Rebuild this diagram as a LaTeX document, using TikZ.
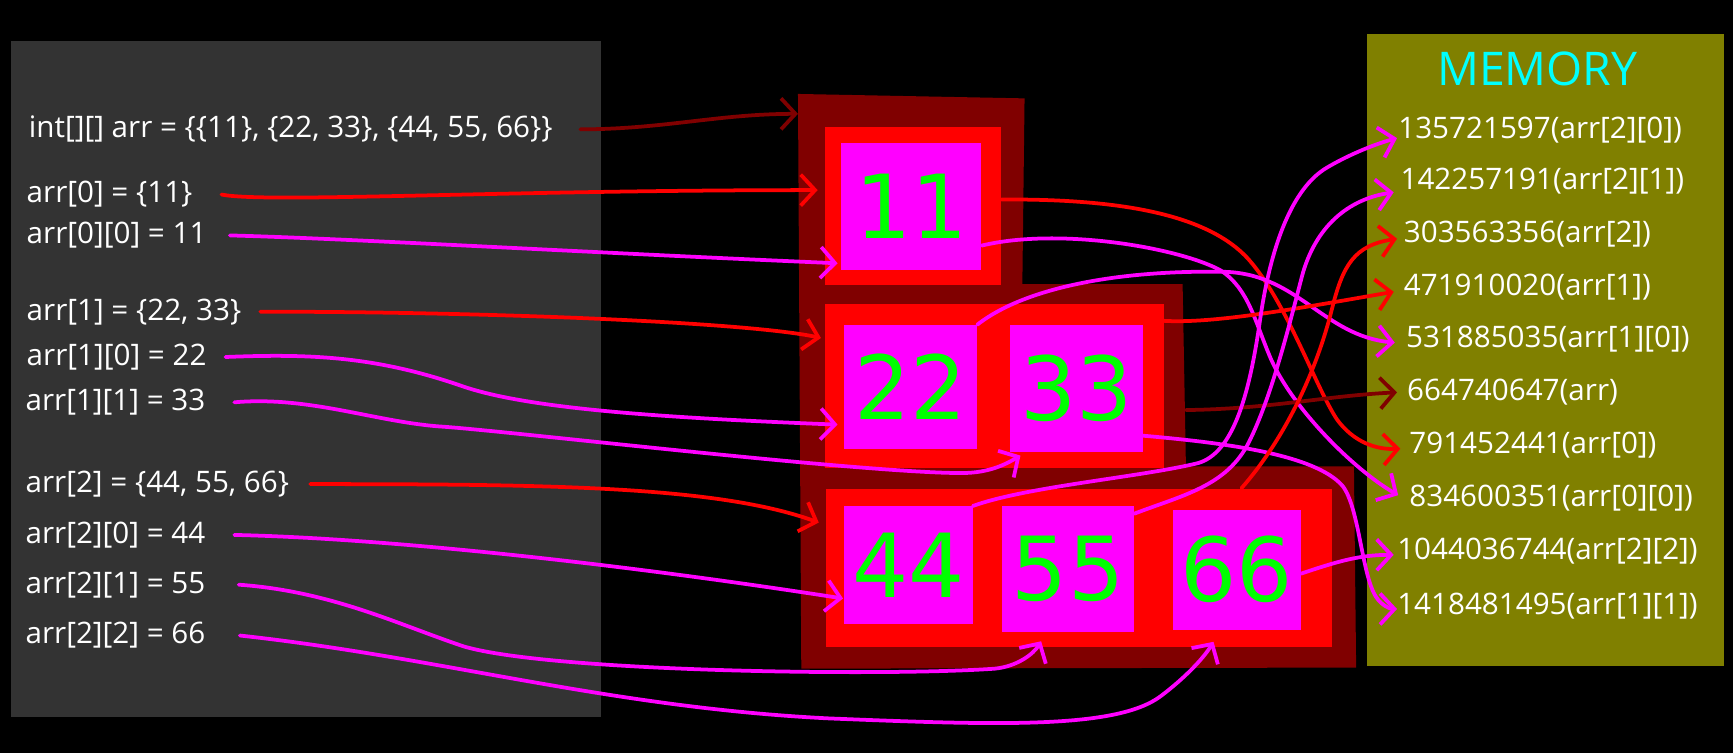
\documentclass[tikz,border=0pt]{standalone}
\usepackage{fontspec}
\setmainfont{Open Sans}
\newfontfamily\digitfont{DejaVu Sans}
\usetikzlibrary{arrows.meta,calc}
\definecolor{panelgray}{HTML}{333333}
\definecolor{memolive}{HTML}{808000}
\definecolor{dred}{HTML}{800000}
\definecolor{rred}{HTML}{FF0000}
\definecolor{mag}{HTML}{FF00FF}
\definecolor{dgreen}{HTML}{00FF00}
\definecolor{cyanc}{HTML}{00FFFF}
\begin{document}
\begin{tikzpicture}[x=1pt,y=-1pt,
  txt/.style={text=white,font=\fontsize{26.8}{32}\selectfont,inner sep=0pt,anchor=west},
  redbox/.style={fill=rred,inner sep=0pt},
  magbox/.style={fill=mag,inner sep=0pt,text=dgreen,font=\digitfont\fontsize{80}{92}\selectfont},
  conn/.style={line width=3.4pt,line cap=round,line join=round,-{Straight Barb[length=13pt,width=28pt]}}]
\useasboundingbox[fill=black] (0,0) rectangle (1568,681);
% panels
\node[fill=panelgray,inner sep=0pt,minimum width=534pt,minimum height=612pt] (code) at (277,343) {};
\node[fill=memolive,inner sep=0pt,minimum width=323pt,minimum height=572pt] (mem) at (1398.5,317) {};
\node[text=cyanc,font=\fontsize{42}{48}\selectfont,inner sep=0pt] (memtitle) at (1391,62) {MEMORY};
% code lines
\node[txt] (t0) at (26,117) {int[][] arr = \{\{11\}, \{22, 33\}, \{44, 55, 66\}\}};
\node[txt] (a0) at (24,176) {arr[0] = \{11\}};
\node[txt] (a00) at (24,213) {arr[0][0] = 11};
\node[txt] (a1) at (24,282) {arr[1] = \{22, 33\}};
\node[txt] (a10) at (24,323) {arr[1][0] = 22};
\node[txt] (a11) at (23,364) {arr[1][1] = 33};
\node[txt] (a2) at (23,438) {arr[2] = \{44, 55, 66\}};
\node[txt] (a20) at (23,484) {arr[2][0] = 44};
\node[txt] (a21) at (23,529) {arr[2][1] = 55};
\node[txt] (a22) at (23,575) {arr[2][2] = 66};
% memory lines
\node[txt] (m1) at (1265,118) {135721597(arr[2][0])};
\node[txt] (m2) at (1267,164) {142257191(arr[2][1])};
\node[txt] (m3) at (1270,212) {303563356(arr[2])};
\node[txt] (m4) at (1270,260) {471910020(arr[1])};
\node[txt] (m5) at (1272,307) {531885035(arr[1][0])};
\node[txt] (m6) at (1273,355) {664740647(arr)};
\node[txt] (m7) at (1275,403) {791452441(arr[0])};
\node[txt] (m8) at (1275,451) {834600351(arr[0][0])};
\node[txt] (m9) at (1264,499) {1044036744(arr[2][2])};
\node[txt] (m10) at (1264,548) {1418481495(arr[1][1])};
% outer array shape
\fill[dred] (722,85) -- (927,89) -- (925,257) -- (1070,257) -- (1073,422) -- (1225,422) -- (1227,604) -- (725,605) -- cycle;
\coordinate (outA) at (722,103);
\coordinate (outB) at (1073,371);
% rows
\node[redbox,minimum width=160pt,minimum height=143pt] (r0) at (826,186.5) {};
\node[redbox,minimum width=307pt,minimum height=148pt] (r1) at (899.5,349) {};
\node[redbox,minimum width=458pt,minimum height=143pt] (r2) at (976,513.5) {};
\node[magbox,minimum width=127pt,minimum height=115pt] (b11) at (824.5,186.5) {11};
\node[magbox,minimum width=120pt,minimum height=112pt] (b22) at (824,350) {22};
\node[magbox,minimum width=120pt,minimum height=115pt] (b33) at (974,351.5) {33};
\node[magbox,minimum width=116pt,minimum height=107pt] (b44) at (822,511.5) {44};
\node[magbox,minimum width=119pt,minimum height=114pt] (b55) at (966.5,515) {55};
\node[magbox,minimum width=116pt,minimum height=109pt] (b66) at (1119,515.5) {66};
% left connectors
\draw[conn,dred] ($(t0.east)+(25,0)$) .. controls (600,117) and (650,103) .. (outA);
\draw[conn,rred] ($(a0.east)+(26,0)$) .. controls (240,184) and (450,172) .. ($(r0.west)+(-6,-14.5)$);
\draw[conn,mag] ($(a00.east)+(21,0)$) .. controls (320,216) and (520,228) .. ($(b11.south west)+(-3,-6)$);
\draw[conn,rred] ($(a1.east)+(17,0)$) .. controls (450,282) and (680,292) .. ($(r1.north west)+(-3,31)$);
\draw[conn,mag] ($(a10.east)+(17,0)$) .. controls (280,320) and (340,322) .. (420,350) .. controls (480,370) and (600,378) .. ($(b22.south west)+(-6,-22)$);
\draw[conn,mag] ($(a11.east)+(26,0)$) .. controls (280,358) and (340,382) .. (400,386) .. controls (460,390) and (780,428) .. (870,428) .. controls (895,428) and (910,420) .. ($(b33.south west)+(9.5,3)$);
\draw[conn,rred] ($(a2.east)+(19,0)$) .. controls (500,438) and (650,440) .. ($(r2.north west)+(-6,31)$);
\draw[conn,mag] ($(a20.east)+(26,0)$) .. controls (350,487) and (560,510) .. ($(b44.west)+(-1,30)$);
\draw[conn,mag] ($(a21.east)+(30,0)$) .. controls (300,535) and (360,565) .. (420,585) .. controls (500,608) and (800,612) .. (900,605) .. controls (920,603) and (935,592) .. ($(b55.south)+(-24.5,8)$);
\draw[conn,mag] ($(a22.east)+(31,0)$) .. controls (400,595) and (550,640) .. (750,650) .. controls (900,656) and (1010,660) .. (1050,630) .. controls (1070,615) and (1088,597) .. ($(b66.south)+(-21,10.5)$);
% right connectors
\draw[conn,rred] ($(r0.east)+(0,-6)$) .. controls (1000,180) and (1090,190) .. (1130,235) .. controls (1165,275) and (1190,350) .. (1210,380) .. controls (1225,400) and (1245,407) .. ($(m7.west)+(-8,3)$);
\draw[conn,mag] ($(b11.south east)+(0,-22)$) .. controls (960,205) and (1070,225) .. (1105,245) .. controls (1130,262) and (1135,290) .. (1150,325) .. controls (1170,370) and (1225,425) .. ($(m8.west)+(-10,-3)$);
\draw[conn,mag] (b22.north east) .. controls (930,258) and (1020,244) .. (1110,246) .. controls (1175,249) and (1198,304) .. ($(m5.west)+(-10,3)$);
\draw[conn,rred] ($(r1.north east)+(0,15.5)$) .. controls (1100,293) and (1180,278) .. ($(m4.west)+(-9,4)$);
\draw[conn,dred] (outB) .. controls (1150,370) and (1200,358) .. ($(m6.west)+(-9,0)$);
\draw[conn,mag] ($(b33.south east)+(0,-15)$) .. controls (1100,400) and (1190,410) .. (1215,440) .. controls (1230,460) and (1232,520) .. (1245,540) .. controls (1250,548) and (1258,551) .. ($(m10.west)+(0,3)$);
\draw[conn,mag] (b44.north east) .. controls (930,440) and (1030,432) .. (1084,419) .. controls (1115,410) and (1130,360) .. (1140,290) .. controls (1150,220) and (1170,170) .. (1200,152) .. controls (1220,140) and (1245,130) .. ($(m1.west)+(-1,7)$);
\draw[conn,mag] ($(b55.north east)+(0,7)$) .. controls (1070,448) and (1110,440) .. (1130,400) .. controls (1150,360) and (1165,300) .. (1178,250) .. controls (1190,205) and (1220,180) .. ($(m2.west)+(-6,10)$);
\draw[conn,rred] ($(r2.north east)+(-82,0)$) .. controls (1160,400) and (1190,340) .. (1205,280) .. controls (1215,240) and (1225,222) .. ($(m3.west)+(-6,4)$);
\draw[conn,mag] ($(b66.east)+(0,3.5)$) .. controls (1210,508) and (1230,502) .. ($(m9.west)+(-3,3)$);
\end{tikzpicture}
\end{document}
